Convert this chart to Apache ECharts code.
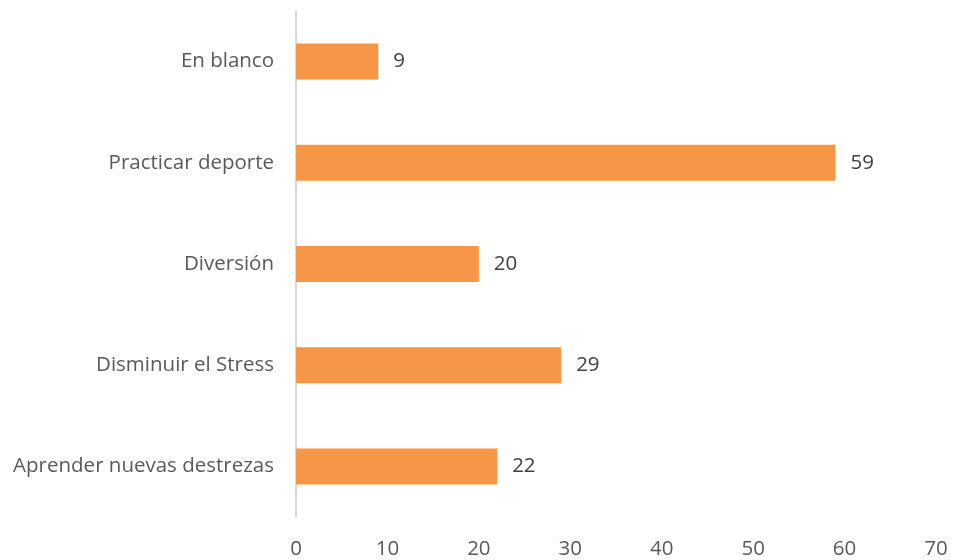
<!DOCTYPE html>
<html>
<head>
<meta charset="utf-8">
<script src="https://cdn.jsdelivr.net/npm/echarts@6/dist/echarts.min.js"></script>
<style>html,body{margin:0;padding:0;background:#fff;}#c{width:953px;height:560px;}</style>
</head>
<body>
<div id="c"></div>
<script>
const categories = ["Aprender nuevas destrezas", "Disminuir el Stress", "Diversión", "Practicar deporte", "En blanco"];
const values = [22, 29, 20, 59, 9];
const xTicks = { min: 0, max: 70, interval: 10 };

const chart = echarts.init(document.getElementById('c'));
const font = "'Open Sans', sans-serif";
chart.setOption({
  animation: false,
  grid: { left: 296, right: 17, top: 11, bottom: 39, containLabel: false },
  xAxis: {
    type: 'value', min: xTicks.min, max: xTicks.max, interval: xTicks.interval,
    axisLine: { show: false }, axisTick: { show: false }, splitLine: { show: false },
    axisLabel: { color: '#595959', fontSize: 20.5, fontFamily: font, margin: 22 }
  },
  yAxis: {
    type: 'category', data: categories,
    axisLine: { show: true, lineStyle: { color: '#d9d9d9', width: 2 } },
    axisTick: { show: false },
    axisLabel: { color: '#595959', fontSize: 20.5, fontFamily: font, margin: 22 }
  },
  series: [{
    type: 'bar', data: values, barWidth: 36,
    itemStyle: { color: '#F79646' },
    label: { show: true, position: 'right', distance: 15, color: '#404040', fontSize: 20.5, fontFamily: font }
  }]
});
</script>
</body>
</html>
